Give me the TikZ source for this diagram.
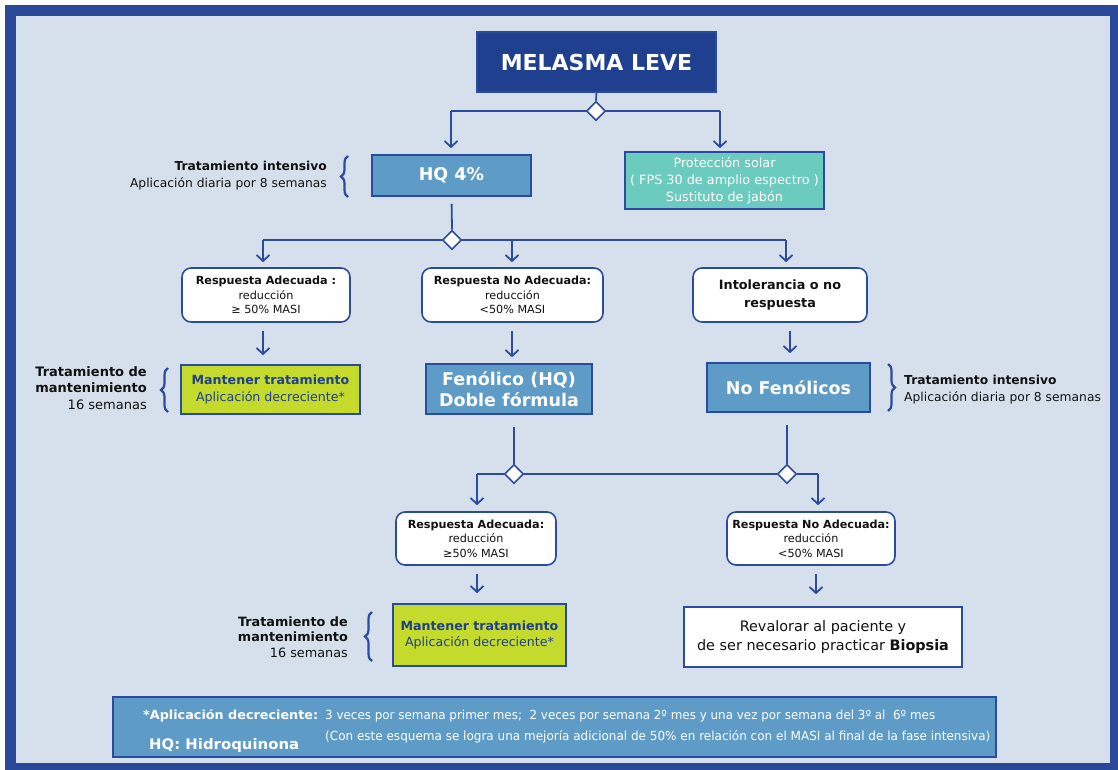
\documentclass[tikz,border=0pt]{standalone}
\usepackage{fontspec}
\setmainfont{DejaVu Sans}
\usepackage{graphicx}
\usetikzlibrary{arrows.meta,decorations.pathreplacing,shapes.geometric}
\definecolor{framec}{HTML}{2A4898}
\definecolor{bgc}{HTML}{D6E0EC}
\definecolor{darkc}{HTML}{1F3F8F}
\definecolor{midc}{HTML}{5E9BC6}
\definecolor{tealc}{HTML}{6ACBBE}
\definecolor{greenc}{HTML}{C4DA2C}
\definecolor{linec}{HTML}{2B4C9E}
\definecolor{txtc}{HTML}{111111}
\newcommand{\fs}[2]{\fontsize{#1}{#2}\selectfont}
\begin{document}
\begin{tikzpicture}[x=1pt,y=-1pt,
  box/.style={draw=linec, line width=1.6pt, align=center, inner sep=0pt},
  resp/.style={box, fill=white, rounded corners=9pt, text=txtc, font=\fs{11.2}{14.5}},
  bluebox/.style={box, fill=midc, text=white, font=\bfseries\fs{17.5}{21}},
  greenbox/.style={box, fill=greenc, text=darkc, font=\fs{12.6}{16.5}},
  dia/.style={diamond, draw=linec, fill=white, line width=1.6pt, minimum width=19pt, minimum height=19pt, inner sep=0pt},
  conn/.style={draw=linec, line width=1.8pt},
  arr/.style={conn, -{Straight Barb[length=6pt,width=13pt]}},
  brc/.style={draw=linec, line width=2.2pt, decorate, decoration={brace, amplitude=7pt}},
  side/.style={text=txtc, font=\fs{12.3}{17}, inner sep=0pt}
]
\useasboundingbox (0,0) rectangle (1118,770);
\fill[white] (0,0) rectangle (1118,770);
\fill[framec] (5,5) rectangle (1118,770);
\fill[bgc] (16,16) rectangle (1110,763);

% nodes
\node[box, fill=darkc, text=white, font=\bfseries\fs{22}{26}, minimum width=239pt, minimum height=60pt] (mel) at (596.5,62) {MELASMA LEVE};
\node[bluebox, minimum width=159pt, minimum height=41pt] (hq) at (451.5,175.5) {HQ 4\%};
\node[box, fill=tealc, text=white, font=\fs{12.8}{17}, minimum width=199pt, minimum height=57pt] (prot) at (724.5,180.5) {Protección solar\\( FPS 30 de amplio espectro )\\Sustituto de jabón};

\node[resp, minimum width=168pt, minimum height=54pt] (ra1) at (266,295) {\textbf{Respuesta Adecuada :}\\reducción\\≥ 50\% MASI};
\node[resp, minimum width=181pt, minimum height=54pt] (rn1) at (512.5,295) {\textbf{Respuesta No Adecuada:}\\reducción\\<50\% MASI};
\node[resp, font=\bfseries\fs{12.8}{17.5}, minimum width=174pt, minimum height=54pt] (int) at (780,295) {Intolerancia o no\\respuesta};

\node[greenbox, minimum width=179pt, minimum height=49pt] (m1) at (270.5,389.5) {\textbf{Mantener tratamiento}\\Aplicación decreciente*};
\node[bluebox, minimum width=166pt, minimum height=50pt] (fen) at (509,389) {Fenólico (HQ)\\Doble fórmula};
\node[bluebox, minimum width=163pt, minimum height=49pt] (nof) at (788.5,387.5) {No Fenólicos};

\node[resp, minimum width=160pt, minimum height=53pt] (ra2) at (476,538.5) {\textbf{Respuesta Adecuada:}\\reducción\\≥50\% MASI};
\node[resp, minimum width=168pt, minimum height=53pt] (rn2) at (811,538.5) {\textbf{Respuesta No Adecuada:}\\reducción\\<50\% MASI};

\node[greenbox, minimum width=173pt, minimum height=62pt] (m2) at (479.5,635) {\textbf{Mantener tratamiento}\\Aplicación decreciente*};
\node[box, fill=white, text=txtc, font=\fs{14.4}{19.5}, minimum width=278pt, minimum height=60pt] (rev) at (823,637) {Revalorar al paciente y\\de ser necesario practicar \textbf{Biopsia}};

% diamonds
\node[dia] (d1) at (596,111) {};
\node[dia] (d2) at (452,240) {};
\node[dia] (d3) at (514,474) {};
\node[dia] (d4) at (787,474) {};

\coordinate (c1l) at (451,111);
\coordinate (c1r) at (720,111);
\coordinate (c2a) at (263,240);
\coordinate (c2b) at (512,240);
\coordinate (c2c) at (786,240);
\coordinate (c3l) at (477,474);
\coordinate (c3r) at (818,474);

% connectors
\draw[conn] (mel.south) -- (d1.north);
\draw[conn] (d1.west) -- (c1l);
\draw[conn] (d1.east) -- (c1r);
\draw[arr, shorten >=6pt] (c1l) -- (c1l |- hq.north);
\draw[arr, shorten >=3pt] (c1r) -- (c1r |- prot.north);

\draw[conn, shorten <=7pt] (hq.south) -- (d2.north);
\draw[conn] (d2.west) -- (c2a);
\draw[conn] (d2.east) -- (c2c);
\draw[arr, shorten >=5pt] (c2a) -- (c2a |- ra1.north);
\draw[arr, shorten >=5pt] (c2b) -- (c2b |- rn1.north);
\draw[arr, shorten >=5pt] (c2c) -- (c2c |- int.north);

\draw[arr, shorten <=8pt, shorten >=9pt] (ra1.south -| c2a) -- (c2a |- m1.north);
\draw[arr, shorten <=8pt, shorten >=6pt] (rn1.south -| c2b) -- (c2b |- fen.north);
\draw[arr, shorten <=8pt, shorten >=9pt] (int.south -| 790,0) -- (790,0 |- nof.north);

\draw[conn, shorten <=12pt] (fen.south -| d3) -- (d3.north);
\draw[conn, shorten <=12pt] (nof.south -| d4) -- (d4.north);
\draw[conn] (d3.east) -- (d4.west);
\draw[conn] (d3.west) -- (c3l);
\draw[conn] (d4.east) -- (c3r);
\draw[arr, shorten >=6pt] (c3l) -- (c3l |- ra2.north);
\draw[arr, shorten >=6pt] (c3r) -- (c3r |- rn2.north);

\draw[arr, shorten <=8pt, shorten >=10pt] (ra2.south -| c3l) -- (c3l |- m2.north);
\draw[arr, shorten <=8pt, shorten >=12pt] (rn2.south -| 816,0) -- (816,0 |- rev.north);

% braces and side notes
\draw[brc] (348,197) -- (348,156);
\node[side, anchor=east, align=right] (s1) at (327,176) {\textbf{Tratamiento intensivo}\\Aplicación diaria por 8 semanas};

\draw[brc] (168,412) -- (168,368);
\node[side, anchor=east, align=right, font=\fs{13}{16.5}] (s2) at (147,388) {\textbf{Tratamiento de}\\\textbf{mantenimiento}\\16 semanas};

\draw[brc] (888,364) -- (888,411);
\node[side, anchor=west, align=left] (s3) at (904,390) {\textbf{Tratamiento intensivo}\\Aplicación diaria por 8 semanas};

\draw[brc] (372,661) -- (372,612);
\node[side, anchor=east, align=right, font=\fs{12.8}{15.5}] (s4) at (348,637) {\textbf{Tratamiento de}\\\textbf{mantenimiento}\\16 semanas};

% footer
\node[box, fill=midc, minimum width=883pt, minimum height=60pt] (foot) at (554.5,727) {};
\node[anchor=west, inner sep=0pt, text=white, font=\bfseries\fs{12.5}{14}] (f1) at (143,716) {\resizebox{175pt}{\height}{*Aplicación decreciente:}};
\node[anchor=west, inner sep=0pt, text=white, font=\fs{12.5}{14}] (f2) at (325,716) {\resizebox{610pt}{\height}{3 veces por semana primer mes;\ \ 2 veces por semana 2º mes y una vez por semana del 3º al\ \ 6º mes}};
\node[anchor=west, inner sep=0pt, text=white, font=\fs{12.5}{14}] (f3) at (325,737) {\resizebox{665pt}{\height}{(Con este esquema se logra una mejoría adicional de 50\% en relación con el MASI al final de la fase intensiva)}};
\node[anchor=west, inner sep=0pt, text=white, font=\bfseries\fs{14.5}{16}] (f4) at (149,745) {\resizebox{150pt}{\height}{HQ: Hidroquinona}};
\end{tikzpicture}
\end{document}
